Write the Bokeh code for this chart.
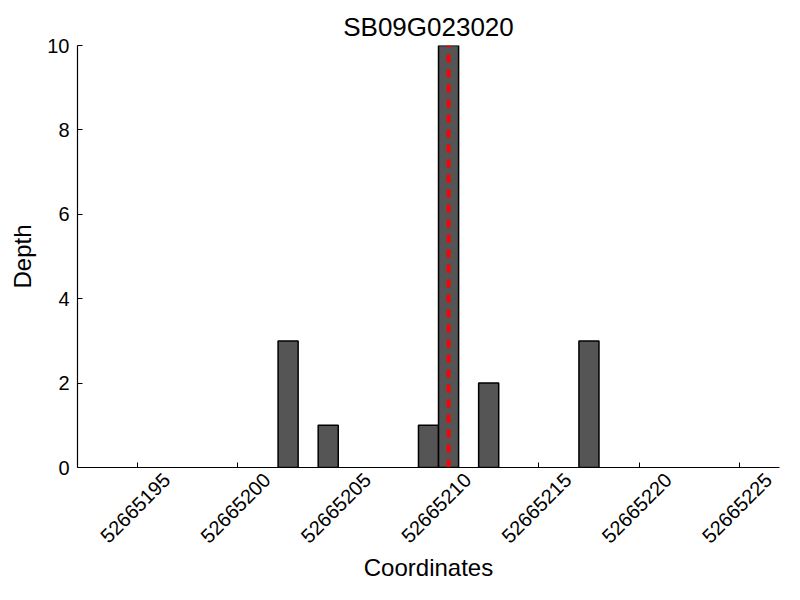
from bokeh.plotting import figure
from bokeh.models import (FixedTicker, Range1d, ColumnDataSource, LinearAxis, CustomJSTickFormatter,
                          NumeralTickFormatter)
from bokeh.embed import file_html
from bokeh.resources import INLINE
import math

# data
positions = [52665202, 52665204, 52665209, 52665210, 52665212, 52665217]
depths = [3, 1, 1, 10, 2, 3]
marker_pos = 52665210.5
x_ticks = [52665195, 52665200, 52665205, 52665210, 52665215, 52665220, 52665225]
y_ticks = [0, 2, 4, 6, 8, 10]
x_start, x_end = 52665192, 52665227
y_start, y_end = 0, 10
title_text = "SB09G023020"

FONT = "Liberation Sans"
LABEL_SHIFT = 1.45  # rotated labels are centred under their ticks

p = figure(width=784, height=584, output_backend="svg", toolbar_location=None,
           x_range=Range1d(x_start, x_end), y_range=Range1d(y_start, y_end),
           frame_width=702, frame_height=422,
           min_border_left=77, min_border_right=5, min_border_top=45, min_border_bottom=117,
           title=title_text)

p.title.text_font = FONT
p.title.text_font_size = "26px"
p.title.text_font_style = "normal"
p.title.text_color = "black"
p.title.align = "center"
p.title.standoff = 7

p.outline_line_color = None
p.xgrid.visible = False
p.ygrid.visible = False

src = ColumnDataSource(dict(left=positions, right=[v + 1 for v in positions],
                            top=depths, bottom=[0] * len(depths)))
p.quad(left="left", right="right", top="top", bottom="bottom", source=src,
       fill_color="#555555", line_color="black", line_width=1.5)

p.segment(x0=[marker_pos], y0=[y_start], x1=[marker_pos], y1=[max(depths)],
          line_color="#ff0000", line_width=3.7, line_dash="8 7")


def style(ax):
    ax.major_tick_in = 5
    ax.major_tick_out = 0
    ax.minor_tick_line_color = None
    ax.axis_line_color = "black"
    ax.axis_line_width = 1.2
    ax.major_tick_line_color = "black"
    ax.major_label_text_font = FONT
    ax.major_label_text_font_size = "20px"
    ax.major_label_text_color = "black"
    ax.axis_label_text_font = FONT
    ax.axis_label_text_font_size = "24px"
    ax.axis_label_text_font_style = "normal"
    ax.axis_label_text_color = "black"
    ax.major_label_standoff = 8


style(p.xaxis[0])
style(p.yaxis[0])

# primary x axis: line and ticks only
p.xaxis.ticker = FixedTicker(ticks=x_ticks)
p.xaxis.formatter = CustomJSTickFormatter(code="return ''")
p.xaxis.major_label_standoff = 0

# label axis: same ticks, shifted so rotated labels are centred under the ticks
p.extra_x_ranges = {"labels": Range1d(x_start - LABEL_SHIFT, x_end - LABEL_SHIFT)}
lab_ax = LinearAxis(x_range_name="labels")
style(lab_ax)
lab_ax.ticker = FixedTicker(ticks=x_ticks)
lab_ax.formatter = NumeralTickFormatter(format="0")
lab_ax.major_label_orientation = math.pi / 4
lab_ax.axis_line_color = None
lab_ax.major_tick_line_color = None
lab_ax.major_tick_in = 0
lab_ax.major_label_standoff = 9
lab_ax.axis_label = "Coordinates"
lab_ax.axis_label_standoff = 2
p.add_layout(lab_ax, "below")

p.yaxis.ticker = FixedTicker(ticks=y_ticks)
p.yaxis.axis_label = "Depth"
p.yaxis.axis_label_standoff = 8

open("out.html", "w").write(file_html(p, INLINE))
